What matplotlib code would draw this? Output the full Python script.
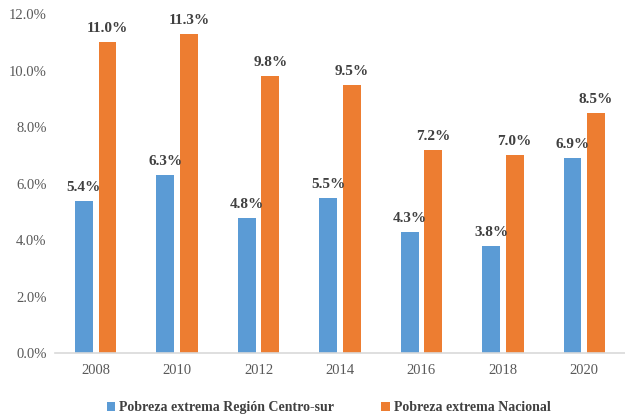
import numpy as np
import matplotlib.pyplot as plt

years = ['2008', '2010', '2012', '2014', '2016', '2018', '2020']
region = [5.4, 6.3, 4.8, 5.5, 4.3, 3.8, 6.9]
nacional = [11.0, 11.3, 9.8, 9.5, 7.2, 7.0, 8.5]

BLUE = '#5B9BD5'
ORANGE = '#ED7D31'

plt.rcParams['font.family'] = ['Liberation Serif', 'DejaVu Serif']

fig = plt.figure(figsize=(6.25, 4.17), dpi=100)
ax = fig.add_axes([0.088, 0.153, 0.912, 0.813])

x = np.arange(len(years))
w = 0.22
off = 0.145
b1 = ax.bar(x - off, region, w, color=BLUE, label='Pobreza extrema Región Centro-sur')
b2 = ax.bar(x + off, nacional, w, color=ORANGE, label='Pobreza extrema Nacional')

for bars, vals in ((b1, region), (b2, nacional)):
    for rect, v in zip(bars, vals):
        ax.text(rect.get_x() + rect.get_width() / 2, v + 0.25, f'{v:.1f}%',
                ha='center', va='bottom', fontsize=11, fontweight='bold',
                color='#404040')

ax.set_xlim(-0.5, len(years) - 0.5)
ax.set_ylim(0, 12)
ax.set_yticks(np.arange(0, 12.1, 2))
ax.set_yticklabels([f'{t:.1f}%' for t in np.arange(0, 12.1, 2)])
ax.set_xticks(x)
ax.set_xticklabels(years)
ax.tick_params(axis='both', length=0, labelsize=10.5, labelcolor='#595959')
ax.tick_params(axis='x', pad=8)
ax.tick_params(axis='y', pad=6)

for s in ['top', 'right', 'left']:
    ax.spines[s].set_visible(False)
ax.spines['bottom'].set_color('#D9D9D9')
ax.spines['bottom'].set_linewidth(1.2)

leg = ax.legend(loc='upper center', bbox_to_anchor=(0.48, -0.105), ncol=2,
                frameon=False, prop={'weight': 'bold', 'size': 10},
                handlelength=0.6, handleheight=0.6, handletextpad=0.3,
                columnspacing=3.4)
for t in leg.get_texts():
    t.set_color('#404040')

fig.savefig('out.png', dpi=100)
